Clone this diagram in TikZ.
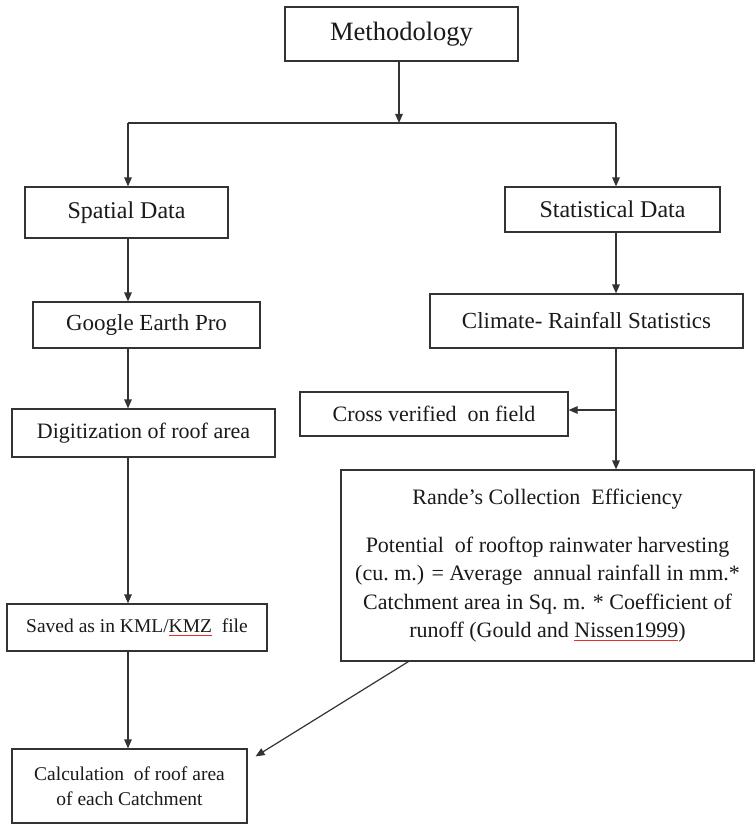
\documentclass[tikz,border=0pt]{standalone}
\usepackage{fontspec}
\setmainfont{Liberation Serif}
\usetikzlibrary{arrows.meta}
\definecolor{ink}{HTML}{333333}
\definecolor{txt}{HTML}{1A1A1A}
\definecolor{spell}{HTML}{E03030}
\newsavebox\ulbox
\newcommand\redul[1]{\sbox\ulbox{#1}\leavevmode\rlap{\usebox\ulbox}\textcolor{spell}{\rule[-3.5pt]{\wd\ulbox}{0.7pt}}}
\tikzset{
  box/.style={draw=ink, line width=1.2pt, inner sep=0pt, align=center, text=txt},
  arr/.style={draw=ink, line width=1.2pt, -{Triangle[length=9pt,width=7.5pt]}},
  ln/.style={draw=ink, line width=1.2pt},
}
\begin{document}
\begin{tikzpicture}[x=1pt,y=-1pt]
\useasboundingbox[fill=white] (0,0) rectangle (755,824);
% boxes
\node[box, minimum width=233pt, minimum height=54pt, font=\fontsize{26.5}{30}\selectfont] (meth) at (401.5,34) {Methodology};
\node[box, minimum width=203pt, minimum height=51pt, font=\fontsize{24}{28}\selectfont] (spatial) at (126.5,212.5) {Spatial Data};
\node[box, minimum width=215pt, minimum height=45pt, font=\fontsize{24}{28}\selectfont] (stat) at (612.5,209.5) {Statistical Data};
\node[box, minimum width=227pt, minimum height=46pt, font=\fontsize{23}{27}\selectfont] (google) at (146.5,325) {Google Earth Pro};
\node[box, minimum width=313pt, minimum height=54pt, font=\fontsize{23}{27}\selectfont] (climate) at (586.5,321) {Climate- Rainfall Statistics};
\node[box, minimum width=263pt, minimum height=48pt, font=\fontsize{22}{26}\selectfont] (digit) at (143.5,433) {Digitization of roof area};
\node[box, minimum width=268pt, minimum height=44pt, font=\fontsize{22}{26}\selectfont] (cross) at (434,414) {Cross verified\ \ on field};
\node[box, minimum width=413pt, minimum height=191pt, font=\fontsize{22}{28.3}\selectfont] (rande) at (547.5,565.5)
  {Rande's Collection\ \ Efficiency\\[20pt]
   Potential\ \ of rooftop rainwater harvesting\\
   (cu.\ m.) = Average\ \ annual rainfall in mm.*\\
   Catchment area in Sq.\ m. * Coefficient of\\
   runoff (Gould and \redul{Nissen1999})};
\node[box, minimum width=260pt, minimum height=47pt, font=\fontsize{19.5}{24}\selectfont] (saved) at (137,627.5) {Saved as in KML/\redul{KMZ}\ \ file};
\node[box, minimum width=235pt, minimum height=74pt, font=\fontsize{19.5}{25}\selectfont] (calc) at (129.5,786) {Calculation\ \ of roof area\\ of each Catchment};
% junction coordinates
\coordinate (split) at (399,123);
\coordinate (bl) at (128,123);
\coordinate (br) at (616,123);
\coordinate (crossj) at (616,410);
% connectors
\draw[arr] (meth.south -| split) -- (split);
\draw[ln] (bl) -- (br);
\draw[arr] (bl) -- (bl |- spatial.north);
\draw[arr] (br) -- (br |- stat.north);
\draw[arr] (spatial.south -| bl) -- (google.north -| bl);
\draw[arr] (stat.south -| br) -- (climate.north -| br);
\draw[arr] (google.south -| bl) -- (digit.north -| bl);
\draw[arr] (climate.south -| br) -- (rande.north -| br);
\draw[arr] (crossj) -- (crossj -| cross.east);
\draw[arr] (digit.south -| bl) -- (saved.north -| bl);
\draw[arr] (saved.south -| bl) -- (calc.north -| bl);
\draw[arr] ([xshift=68pt]rande.south west) -- ([xshift=8pt,yshift=-8pt]calc.north east);
\end{tikzpicture}
\end{document}
